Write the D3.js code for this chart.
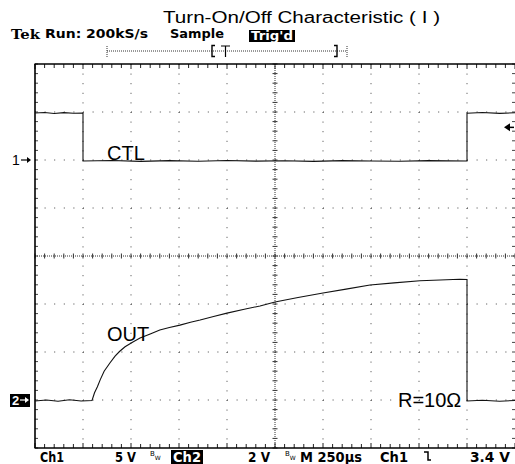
<!DOCTYPE html>
<html><head><meta charset="utf-8">
<script src="https://cdn.jsdelivr.net/npm/d3@7"></script>
<style>
body{margin:0;background:#fff;}
svg{display:block;}
</style></head>
<body>
<svg id="c" width="515" height="464"></svg>
<script>
// ---- data ----
const titleText = "Turn-On/Off Characteristic ( I )";
const ctlTime  = [0, 50, 100, 150, 200, 250, 250, 400, 550, 700, 850, 1000, 1150, 1300, 1450, 1600, 1750, 1900, 2050, 2250, 2250, 2330, 2420, 2500];
const ctlVolts = [4.9, 4.95, 4.85, 4.93, 4.87, 4.9, -0.1, -0.05, -0.14, -0.07, -0.13, -0.05, -0.12, -0.08, -0.14, -0.06, -0.11, -0.13, -0.07, -0.1, 4.88, 4.95, 4.86, 4.92];
const outTime  = [0, 60, 120, 180, 240, 297, 310, 325, 340, 360, 390, 417, 440, 469, 510, 547, 600, 650, 700, 755, 810, 860, 930, 1000, 1090, 1172, 1250, 1370, 1500, 1620, 1745, 1870, 2005, 2110, 2212, 2250, 2250, 2330, 2420, 2500];
const outVolts = [-0.04, 0.0, -0.05, 0.01, -0.04, -0.02, 0.3, 0.55, 0.85, 1.2, 1.54, 1.83, 2.02, 2.22, 2.42, 2.58, 2.75, 2.92, 3.02, 3.12, 3.24, 3.33, 3.48, 3.62, 3.78, 3.92, 4.08, 4.27, 4.46, 4.62, 4.79, 4.88, 4.97, 5.0, 5.03, 5.02, -0.04, -0.01, -0.05, -0.02];
const ch1Scale = 5;      // V/div
const ch2Scale = 2;      // V/div
const timeDiv = 250;     // µs/div
const trigLevel = 3.4;   // V on Ch1
const labelCtl = "CTL", labelOut = "OUT", labelR = "R=10Ω";
const statusTexts = ["Run: 200kS/s", "Sample", "Trig'd"];
const footerTexts = ["Ch1", "5 V", "Ch2", "2 V", "M 250µs", "Ch1", "3.4 V"];

// ---- layout ----
const L = 35, R = 515, T = 64, B = 448;
const svg = d3.select("#c");
const x = d3.scaleLinear().domain([0, timeDiv * 10]).range([L, R]);
const y1 = d3.scaleLinear().domain([-6 * ch1Scale, 2 * ch1Scale]).range([B, T]);
const y2 = d3.scaleLinear().domain([-1 * ch2Scale, 7 * ch2Scale]).range([B, T]);
const divY = d3.scaleLinear().domain([0, 8]).range([T, B]);
const dx = (R - L) / 10, dy = (B - T) / 8;

const g = svg.append("g");
// dotted grid lines
d3.range(1, 10).filter(i => i !== 5).forEach(i => {
  g.append("line").attr("x1", x(i * timeDiv)).attr("x2", x(i * timeDiv)).attr("y1", T).attr("y2", B)
    .attr("stroke", "#444").attr("stroke-width", 1).attr("stroke-dasharray", `1 ${dy / 5 - 1}`);
});
d3.range(1, 8).filter(i => i !== 4).forEach(i => {
  g.append("line").attr("y1", divY(i)).attr("y2", divY(i)).attr("x1", L).attr("x2", R)
    .attr("stroke", "#444").attr("stroke-width", 1).attr("stroke-dasharray", `1 ${dx / 5 - 1}`);
});
// center cross
const cx = x(5 * timeDiv), cy = divY(4);
g.append("line").attr("x1", cx).attr("x2", cx).attr("y1", T).attr("y2", B)
  .attr("stroke", "#333").attr("stroke-dasharray", "1 1");
g.append("line").attr("y1", cy).attr("y2", cy).attr("x1", L).attr("x2", R)
  .attr("stroke", "#333").attr("stroke-dasharray", "1 1");
d3.range(0, 51).forEach(k => {
  const xx = L + k * dx / 5;
  g.append("line").attr("x1", xx).attr("x2", xx).attr("y1", cy - 2.5).attr("y2", cy + 2.5).attr("stroke", "#333").attr("stroke-width", 1);
  g.append("line").attr("x1", xx).attr("x2", xx).attr("y1", T).attr("y2", T + (k % 5 === 0 ? 5 : 4)).attr("stroke", "#222").attr("stroke-width", 1);
  g.append("line").attr("x1", xx).attr("x2", xx).attr("y1", B).attr("y2", B - (k % 5 === 0 ? 5 : 4)).attr("stroke", "#222").attr("stroke-width", 1);
});
d3.range(0, 41).forEach(k => {
  const yy = T + k * dy / 5;
  g.append("line").attr("y1", yy).attr("y2", yy).attr("x1", cx - 2.5).attr("x2", cx + 2.5).attr("stroke", "#333").attr("stroke-width", 1);
  g.append("line").attr("y1", yy).attr("y2", yy).attr("x1", L).attr("x2", L + 3).attr("stroke", "#444").attr("stroke-width", 1);
  g.append("line").attr("y1", yy).attr("y2", yy).attr("x1", R).attr("x2", R - 3).attr("stroke", "#444").attr("stroke-width", 1);
});
// border
g.append("line").attr("x1", L - 0.5).attr("x2", R).attr("y1", T).attr("y2", T).attr("stroke", "#000").attr("stroke-width", 1.3);
g.append("line").attr("x1", L - 0.5).attr("x2", R).attr("y1", B).attr("y2", B).attr("stroke", "#000").attr("stroke-width", 1.3);
g.append("line").attr("x1", L).attr("x2", L).attr("y1", T).attr("y2", B).attr("stroke", "#000").attr("stroke-width", 1.6);

// traces
const line1 = d3.line().x((d, i) => x(ctlTime[i])).y(d => y1(d)).curve(d3.curveLinear);
const line2 = d3.line().x((d, i) => x(outTime[i])).y(d => y2(d)).curve(d3.curveLinear);
svg.append("path").attr("d", line1(ctlVolts)).attr("fill", "none").attr("stroke", "#111").attr("stroke-width", 1.1);
svg.append("path").attr("d", line2(outVolts)).attr("fill", "none").attr("stroke", "#111").attr("stroke-width", 1.1);

// trace labels
const lab = (t, xx, yy) => svg.append("text").text(t).attr("x", xx).attr("y", yy)
  .attr("font-family", "Liberation Sans, Arial, sans-serif").attr("font-size", 20).attr("fill", "#000");
lab(labelCtl, 107, 160);
lab(labelOut, 107, 341);
lab(labelR, 398, 407);

// title
svg.append("text").text(titleText).attr("x", 163).attr("y", 23)
  .attr("font-family", "Liberation Sans, Arial, sans-serif").attr("font-size", 16)
  .attr("textLength", 277).attr("lengthAdjust", "spacingAndGlyphs").attr("fill", "#000");

// status line
const mono = "DejaVu Sans, sans-serif";
svg.append("text").text("Tek").attr("x", 11).attr("y", 39).attr("font-family", "DejaVu Serif, serif")
  .attr("font-weight", "bold").attr("font-size", 13).attr("textLength", 29).attr("lengthAdjust", "spacingAndGlyphs");
svg.append("text").text(statusTexts[0]).attr("x", 45).attr("y", 38).attr("font-family", mono)
  .attr("font-size", 13).attr("font-weight", "bold").attr("textLength", 103).attr("lengthAdjust", "spacingAndGlyphs");
svg.append("text").text(statusTexts[1]).attr("x", 170).attr("y", 38).attr("font-family", mono)
  .attr("font-size", 13).attr("font-weight", "bold").attr("textLength", 54).attr("lengthAdjust", "spacingAndGlyphs");
svg.append("rect").attr("x", 249).attr("y", 30).attr("width", 46).attr("height", 12).attr("fill", "#000");
svg.append("text").text(statusTexts[2]).attr("x", 251).attr("y", 40).attr("font-family", mono)
  .attr("font-size", 12).attr("font-weight", "bold").attr("fill", "#fff").attr("textLength", 42).attr("lengthAdjust", "spacingAndGlyphs");

// record bracket
svg.append("line").attr("x1", 107).attr("x2", 347).attr("y1", 51).attr("y2", 51).attr("stroke", "#333").attr("stroke-dasharray", "1 1");
[107, 347].forEach(xx => svg.append("line").attr("x1", xx).attr("x2", xx).attr("y1", 46).attr("y2", 57).attr("stroke", "#333").attr("stroke-dasharray", "1 1"));
svg.append("path").attr("d", "M215,45.5 h-3 v11 h3").attr("fill", "none").attr("stroke", "#000").attr("stroke-width", 1.4);
svg.append("path").attr("d", "M334,45.5 h3 v11 h-3").attr("fill", "none").attr("stroke", "#000").attr("stroke-width", 1.4);
svg.append("path").attr("d", "M221,46 h9 M225.5,46 v11").attr("fill", "none").attr("stroke", "#000").attr("stroke-width", 1.2);

// ground markers
svg.append("text").text("1").attr("x", 12).attr("y", 165).attr("font-family", "Liberation Sans, Arial, sans-serif").attr("font-size", 14);
svg.append("path").attr("d", `M21,${y1(0)} h8`).attr("stroke", "#000").attr("stroke-width", 1.2);
svg.append("path").attr("d", `M31,${y1(0)} l-4,-3 v6 z`).attr("fill", "#000");
svg.append("rect").attr("x", 10).attr("y", y2(0) - 6).attr("width", 20).attr("height", 13).attr("fill", "#000");
svg.append("text").text("2").attr("x", 12).attr("y", y2(0) + 5).attr("font-family", "Liberation Sans, Arial, sans-serif")
  .attr("font-weight", "bold").attr("font-size", 13).attr("fill", "#fff");
svg.append("path").attr("d", `M20,${y2(0)} h7`).attr("stroke", "#fff").attr("stroke-width", 1.2);
svg.append("path").attr("d", `M29,${y2(0)} l-4,-3 v6 z`).attr("fill", "#fff");
// trigger level marker
svg.append("path").attr("d", `M504,${y1(trigLevel)} l6,-4 v8 z`).attr("fill", "#000");
svg.append("path").attr("d", `M508,${y1(trigLevel)} h6`).attr("stroke", "#000").attr("stroke-width", 1.5);

// footer
const fy = 462;
const ft = (t, xx, w, opts = {}) => svg.append("text").text(t).attr("x", xx).attr("y", fy)
  .attr("font-family", mono).attr("font-size", 14).attr("font-weight", "bold")
  .attr("fill", opts.fill || "#000").attr("textLength", w).attr("lengthAdjust", "spacingAndGlyphs");
ft(footerTexts[0], 40, 24);
ft(footerTexts[1], 115, 21);
svg.append("rect").attr("x", 171).attr("y", 450).attr("width", 32).attr("height", 14).attr("fill", "#000");
ft(footerTexts[2], 173, 28, { fill: "#fff" });
ft(footerTexts[3], 248, 22);
ft(footerTexts[4], 300, 62);
ft(footerTexts[5], 380, 28);
ft(footerTexts[6], 470, 40);
// bandwidth-limit glyphs (B with subscript W, one text element)
[150, 285].forEach(xx => {
  const t = svg.append("text").attr("x", xx).attr("y", 456).attr("font-family", mono).attr("font-size", 7);
  t.append("tspan").text("B");
  t.append("tspan").attr("dy", 4).attr("font-size", 6).text("W");
});
// falling-edge trigger slope glyph
svg.append("path").attr("d", "M424,452 h4 v8 h3").attr("fill", "none").attr("stroke", "#000").attr("stroke-width", 1.5);
</script>
</body></html>
